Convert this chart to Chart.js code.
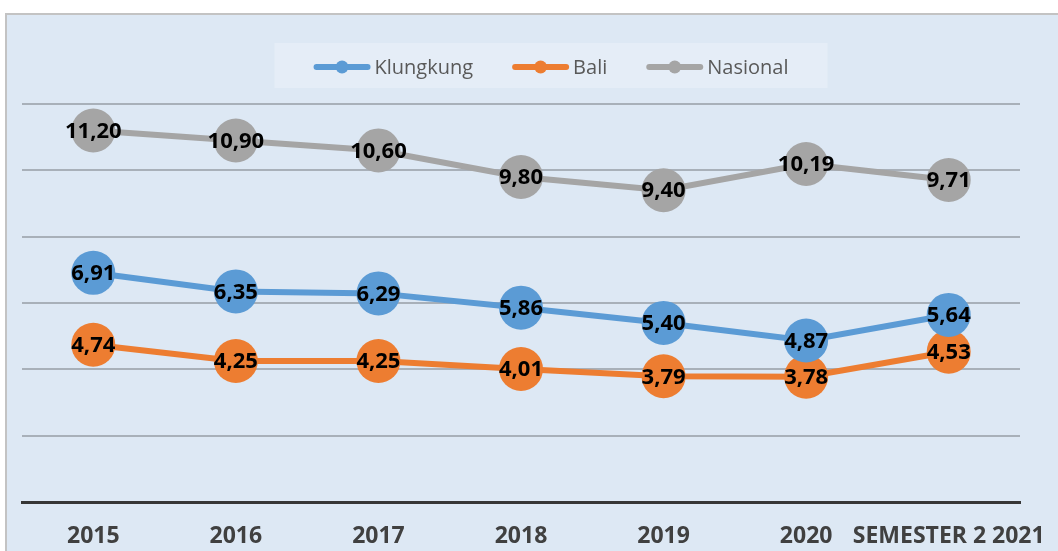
<!DOCTYPE html>
<html>
<head>
<meta charset="utf-8">
<script src="https://cdn.jsdelivr.net/npm/chart.js@4.4.1/dist/chart.umd.min.js"></script>
<style>
  html, body { margin: 0; padding: 0; background: #fff; }
  #wrap { width: 1058px; height: 551px; }
</style>
</head>
<body>
<div id="wrap"><canvas id="chart" width="1058" height="551"></canvas></div>
<script>
// data
const years = ["2015", "2016", "2017", "2018", "2019", "2020", "SEMESTER 2 2021"];
const klungkung = [6.91, 6.35, 6.29, 5.86, 5.40, 4.87, 5.64];
const bali = [4.74, 4.25, 4.25, 4.01, 3.79, 3.78, 4.53];
const nasional = [11.20, 10.90, 10.60, 9.80, 9.40, 10.19, 9.71];

const BLUE = "#5b9bd5";
const ORANGE = "#ed7d31";
const GREY = "#a5a5a5";
const BG = "#dde8f4";

function fmt(v) {
  return v.toFixed(2).replace(".", ",");
}

// background panel, frame and the legend strip at the top
const panel = {
  id: "panel",
  beforeDraw(chart) {
    const ctx = chart.ctx;
    ctx.save();
    ctx.fillStyle = "#fff";
    ctx.fillRect(0, 0, chart.width, chart.height);
    ctx.fillStyle = BG;
    ctx.fillRect(7, 15, chart.width - 7, chart.height - 15);
    ctx.strokeStyle = "#c3c3c3";
    ctx.lineWidth = 2;
    ctx.beginPath();
    ctx.moveTo(6, chart.height);
    ctx.lineTo(6, 14);
    ctx.lineTo(chart.width, 14);
    ctx.stroke();

    // legend: line-with-dot marker, small gap, label
    const markW = 57, gap = 4, spacing = 39, cy = 67;
    ctx.font = "20px 'Open Sans'";
    const items = chart.data.datasets.map(ds => ({
      text: ds.label,
      color: ds.borderColor,
      w: ctx.measureText(ds.label).width
    }));
    const total = items.reduce((s, it) => s + markW + gap + it.w, 0) + spacing * (items.length - 1);
    let x = 551 - total / 2;
    ctx.fillStyle = "#e5edf7";
    ctx.fillRect(x - 39, 43, total + 78, 45);
    ctx.textAlign = "left";
    ctx.textBaseline = "middle";
    items.forEach(it => {
      ctx.strokeStyle = it.color;
      ctx.lineWidth = 6;
      ctx.lineCap = "round";
      ctx.beginPath();
      ctx.moveTo(x + 3, cy);
      ctx.lineTo(x + markW - 3, cy);
      ctx.stroke();
      ctx.fillStyle = it.color;
      ctx.beginPath();
      ctx.arc(x + markW / 2, cy, 6.5, 0, Math.PI * 2);
      ctx.fill();
      ctx.fillStyle = "#595959";
      ctx.fillText(it.text, x + markW + gap, cy + 1);
      x += markW + gap + it.w + spacing;
    });
    ctx.restore();
  }
};

// value labels centred on each point
const valueLabels = {
  id: "valueLabels",
  afterDatasetsDraw(chart) {
    const ctx = chart.ctx;
    ctx.save();
    ctx.font = "bold 22px 'Open Sans'";
    ctx.fillStyle = "#000";
    ctx.textAlign = "center";
    ctx.textBaseline = "middle";
    chart.data.datasets.forEach((ds, i) => {
      chart.getDatasetMeta(i).data.forEach((pt, j) => {
        ctx.fillText(fmt(ds.data[j]), pt.x, pt.y + 1);
      });
    });
    ctx.restore();
  }
};

function series(label, data, color) {
  return {
    label: label,
    data: data,
    borderColor: color,
    backgroundColor: color,
    borderWidth: 6,
    pointRadius: 22,
    pointBorderWidth: 0,
    pointHoverRadius: 22,
    tension: 0
  };
}

new Chart(document.getElementById("chart"), {
  type: "line",
  data: {
    labels: years,
    datasets: [
      series("Klungkung", klungkung, BLUE),
      series("Bali", bali, ORANGE),
      series("Nasional", nasional, GREY)
    ]
  },
  options: {
    responsive: false,
    animation: false,
    layout: { padding: { top: 104, left: 22, right: 38, bottom: 0 } },
    plugins: {
      tooltip: { enabled: false },
      legend: { display: false }
    },
    scales: {
      x: {
        offset: true,
        afterFit(scale) {
          scale.height = 49;
          scale.paddingLeft = 0;
          scale.paddingRight = 0;
        },
        grid: { display: false, drawTicks: false },
        border: { display: true, color: "#363636", width: 3 },
        ticks: {
          color: "#404040",
          padding: 21,
          maxRotation: 0,
          autoSkip: false,
          font: { family: "'Open Sans'", size: 23, weight: "bold" }
        }
      },
      y: {
        min: 0,
        max: 12,
        afterFit(scale) { scale.width = 0; },
        grid: {
          drawTicks: false,
          lineWidth: 2,
          color: (c) => (c.tick && c.tick.value === 0 ? "rgba(0,0,0,0)" : "#a8b0b9")
        },
        border: { display: false },
        ticks: { display: false, stepSize: 2 }
      }
    }
  },
  plugins: [panel, valueLabels]
});
</script>
</body>
</html>
